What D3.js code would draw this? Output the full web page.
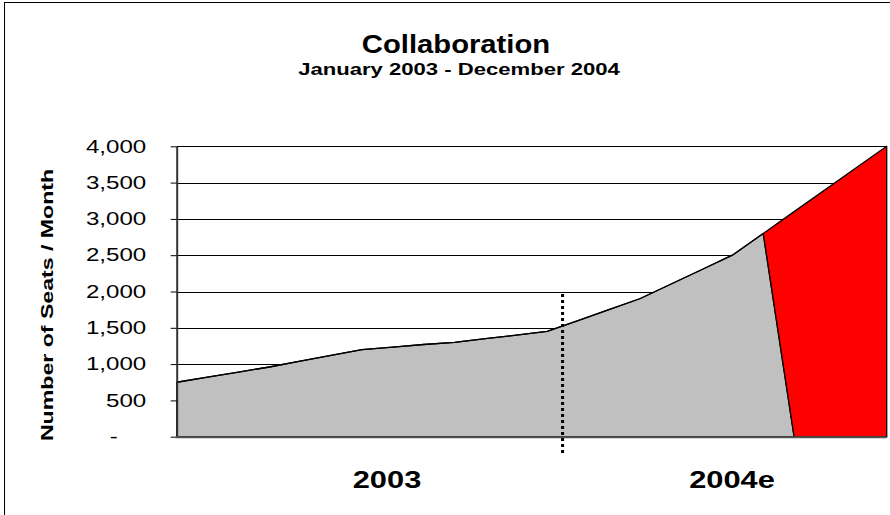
<!DOCTYPE html>
<html>
<head>
<meta charset="utf-8">
<script src="https://cdn.jsdelivr.net/npm/d3@7"></script>
<style>
  body { margin: 0; background: #fff; }
  svg { display: block; font-family: "Liberation Sans", Arial, sans-serif; }
</style>
</head>
<body>
<div id="chart"></div>
<script>
// monthly categories, Jan 2003 - Dec 2004
var months = ["Jan-03","Feb-03","Mar-03","Apr-03","May-03","Jun-03","Jul-03","Aug-03","Sep-03","Oct-03","Nov-03","Dec-03",
              "Jan-04","Feb-04","Mar-04","Apr-04","May-04","Jun-04","Jul-04","Aug-04","Sep-04","Oct-04","Nov-04","Dec-04"];
// seats per month (grey = actual / committed, red = estimate)
var actualSeats   = [750, 820, 890, 960, 1040, 1120, 1200, 1235, 1270, 1300, 1350, 1400,
                     1450, 1600, 1750, 1900, 2100, 2300, 2500, 2800, 0, 0, 0, 0];
var estimateSeats = [0, 0, 0, 0, 0, 0, 0, 0, 0, 0, 0, 0,
                     0, 0, 0, 0, 0, 0, 0, 0, 3100, 3400, 3700, 4000];
var yTicks = [0, 500, 1000, 1500, 2000, 2500, 3000, 3500, 4000];
var yearLabels = ["2003", "2004e"];
var splitAfter = "Jan-04"; // dotted divider sits between these two points
var splitBefore = "Feb-04";

var width = 890, height = 515;
var margin = {top: 146.3, right: 3.3, bottom: 78.3, left: 176.7};
var sx = 1.34; // text in the original is drawn wide

var svg = d3.select("#chart").append("svg")
    .attr("width", width)
    .attr("height", height);

// outer frame (runs off the right/bottom of the picture)
svg.append("rect")
    .attr("x", 4.5).attr("y", 2.5)
    .attr("width", 900).attr("height", 540)
    .attr("fill", "none").attr("stroke", "#000").attr("stroke-width", 1);

var x = d3.scalePoint()
    .domain(months)
    .range([margin.left, width - margin.right]);

var y = d3.scaleLinear()
    .domain([0, 4000])
    .range([height - margin.bottom, margin.top]);

// helper for the stretched text
function wideText(sel, px, py, str, size, weight, scaleX, rotate) {
    return sel.append("text")
        .attr("transform", "translate(" + px + "," + py + ")" + (rotate ? " rotate(" + rotate + ")" : "") + " scale(" + scaleX + ",1)")
        .attr("text-anchor", "middle")
        .style("font-size", size + "px")
        .style("font-weight", weight)
        .attr("fill", "#000")
        .text(str);
}

// titles
wideText(svg, 456, 52.5, "Collaboration", 25, "bold", 1.17);
wideText(svg, 459, 75, "January 2003 - December 2004", 17, "bold", 1.3);

// gridlines
svg.append("g").selectAll("line")
    .data(yTicks.filter(function(d) { return d > 0; }))
    .enter().append("line")
    .attr("x1", margin.left).attr("x2", width - margin.right)
    .attr("y1", function(d) { return Math.round(y(d)) + 0.5; })
    .attr("y2", function(d) { return Math.round(y(d)) + 0.5; })
    .attr("stroke", "#000").attr("stroke-width", 1);

// stacked areas
var rows = months.map(function(m, i) {
    return {month: m, actual: actualSeats[i], estimate: estimateSeats[i]};
});
var stack = d3.stack().keys(["actual", "estimate"]);
var series = stack(rows);
var colors = {actual: "#C0C0C0", estimate: "#FF0000"};

var area = d3.area()
    .x(function(d) { return x(d.data.month); })
    .y0(function(d) { return y(d[0]); })
    .y1(function(d) { return y(d[1]); });

svg.append("g").selectAll("path")
    .data(series)
    .enter().append("path")
    .attr("d", area)
    .attr("fill", function(d) { return colors[d.key]; })
    .attr("stroke", "#000")
    .attr("stroke-width", 1.3)
    .attr("stroke-linejoin", "round");

// axes
var yAxis = d3.axisLeft(y)
    .tickValues(yTicks)
    .tickSize(6)
    .tickSizeOuter(0)
    .tickFormat(function(d) { return d === 0 ? "-" : d3.format(",")(d); });

var gy = svg.append("g")
    .attr("transform", "translate(" + margin.left + ",0)")
    .call(yAxis);
gy.select(".domain").attr("stroke", "#333").attr("stroke-width", 2);
gy.selectAll(".tick line").attr("stroke", "#000");
gy.selectAll(".tick text")
    .attr("x", function(d) { return (d === 0 ? -59 : -30.5) / sx; })
    .attr("transform", "scale(" + sx + ",1)")
    .style("font-size", "18px")
    .attr("fill", "#000");

svg.append("line")
    .attr("x1", margin.left - 1).attr("x2", width - margin.right)
    .attr("y1", y(0) + 0.5).attr("y2", y(0) + 0.5)
    .attr("stroke", "#555").attr("stroke-width", 2);

// year divider
var splitX = (x(splitAfter) + x(splitBefore)) / 2;
svg.append("line")
    .attr("x1", splitX).attr("x2", splitX)
    .attr("y1", 294).attr("y2", 453)
    .attr("stroke", "#000").attr("stroke-width", 3)
    .attr("stroke-dasharray", "3,3");

// year labels
wideText(svg, 387, 488, yearLabels[0], 23, "bold", sx);
wideText(svg, 732, 488, yearLabels[1], 23, "bold", sx);

// y axis title
wideText(svg, 52.5, 305, "Number of Seats / Month", 17, "bold", 1.36, -90);
</script>
</body>
</html>
